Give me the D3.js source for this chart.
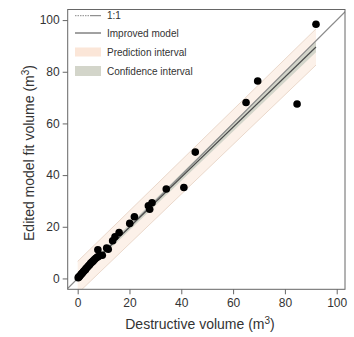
<!DOCTYPE html>
<html><head><meta charset="utf-8">
<script src="https://cdn.jsdelivr.net/npm/d3@7"></script>
<style>body{margin:0;background:#fff}svg{display:block;font-family:"Liberation Sans",Arial,sans-serif}</style>
</head><body><svg id="c" width="354" height="337"></svg>
<script>
const destructive = [0.2,0.5,0.8,1.2,1.5,1.8,2.2,2.5,3,3.3,3.8,4.2,4.6,5,5.5,6,6.5,7,7.5,8,9.5,11.2,7.8,11.8,13.5,14.4,16,20.1,21.9,27.3,27.8,28.7,34.2,41,45.4,65,69.5,84.7,92];
const fitted = [0.3,0.6,0.9,1.4,1.8,2.1,2.6,3,3.4,3.9,4.4,4.9,5.3,5.9,6.3,6.8,7.3,7.8,8.2,8.5,9,11.8,11.1,11.3,14.6,16.1,17.8,21.3,23.9,28.1,26.8,29.3,34.6,35.2,48.9,68.1,76.4,67.5,98.4];
const xTicks = [0,20,40,60,80,100];
const yTicks = [0,20,40,60,80,100];
const modelX = [0, 92];
const modelY = [0.4, 89.6];
const piHalf = [6.2, 7.0];
const ciHalf = [0.9, 2.0];
const legendLabels = ["1:1","Improved model","Prediction interval","Confidence interval"];

const svg = d3.select("#c");
const L=67.7,R=345,T=9.5,B=289.3;
const x = d3.scaleLinear().domain([-3.85,103.2]).range([L,R]);
const y = d3.scaleLinear().domain([-4.2,104.1]).range([B,T]);
const txt="#333";

svg.append("defs").append("clipPath").attr("id","clip").append("rect").attr("x",L).attr("y",T).attr("width",R-L).attr("height",B-T);
const g = svg.append("g").attr("clip-path","url(#clip)");

const band = (half)=> modelX.map((v,i)=>({x:v,lo:modelY[i]-half[i],hi:modelY[i]+half[i]}));
const area = d3.area().x(d=>x(d.x)).y0(d=>y(d.lo)).y1(d=>y(d.hi));
const pi = band(piHalf), ci = band(ciHalf);
g.append("path").datum(pi).attr("d",area).attr("fill","#fcf1e9");
g.append("path").datum(pi).attr("d",d3.line().x(d=>x(d.x)).y(d=>y(d.hi))).attr("fill","none").attr("stroke","#ead8cb").attr("stroke-width",1);
g.append("path").datum(pi).attr("d",d3.line().x(d=>x(d.x)).y(d=>y(d.lo))).attr("fill","none").attr("stroke","#ead8cb").attr("stroke-width",1);
g.append("path").datum(ci).attr("d",area).attr("fill","#d3d5ca");

// 1:1 line
g.append("line").attr("x1",x(-10)).attr("y1",y(-10)).attr("x2",x(110)).attr("y2",y(110)).attr("stroke","#8a8a8a").attr("stroke-width",1.2);
// improved model
g.append("line").attr("x1",x(modelX[0])).attr("y1",y(modelY[0])).attr("x2",x(modelX[1])).attr("y2",y(modelY[1])).attr("stroke","#4a4a4a").attr("stroke-width",1.2);

g.selectAll("circle").data(destructive).join("circle")
 .attr("cx",d=>x(d)).attr("cy",(d,i)=>y(fitted[i])).attr("r",3.8).attr("fill","#000");

svg.append("rect").attr("x",L).attr("y",T).attr("width",R-L).attr("height",B-T).attr("fill","none").attr("stroke","#666").attr("stroke-width",1);

const xa = svg.append("g").attr("transform",`translate(0,${B})`).call(d3.axisBottom(x).tickValues(xTicks).tickSize(5).tickPadding(4));
const ya = svg.append("g").attr("transform",`translate(${L},0)`).call(d3.axisLeft(y).tickValues(yTicks).tickSize(5).tickPadding(3));
[xa,ya].forEach(a=>{a.select(".domain").remove();a.selectAll("line").attr("stroke","#666");a.selectAll("text").attr("fill",txt).style("font-size","12px").style("font-family","Liberation Sans, Arial, sans-serif");});

const xt = svg.append("text").attr("x",200).attr("y",329).attr("text-anchor","middle").attr("fill",txt).style("font-size","14px");
xt.append("tspan").text("Destructive volume (m");
xt.append("tspan").attr("dy",-5).style("font-size","10px").text("3");
xt.append("tspan").attr("dy",5).text(")");

const yt = svg.append("text").attr("transform","translate(34,153) rotate(-90)").attr("text-anchor","middle").attr("fill",txt).style("font-size","14px");
yt.append("tspan").text("Edited model fit volume (m");
yt.append("tspan").attr("dy",-5).style("font-size","10px").text("3");
yt.append("tspan").attr("dy",5).text(")");

const lg = svg.append("g");
const ly=[15.7,33,52,71];
lg.append("line").attr("x1",75).attr("x2",90).attr("y1",ly[0]).attr("y2",ly[0]).attr("stroke","#888").attr("stroke-dasharray","1.5,1");
lg.append("line").attr("x1",90).attr("x2",101).attr("y1",ly[0]).attr("y2",ly[0]).attr("stroke","#777");
lg.append("line").attr("x1",75).attr("x2",101).attr("y1",ly[1]).attr("y2",ly[1]).attr("stroke","#444");
lg.append("rect").attr("x",75).attr("y",ly[2]-4.5).attr("width",26).attr("height",9).attr("fill","#fbe6d8");
lg.append("rect").attr("x",75).attr("y",ly[3]-5).attr("width",26).attr("height",10).attr("fill","#d3d5ca");
lg.selectAll("text.lab").data(legendLabels).join("text").attr("class","lab").attr("x",107).attr("y",(d,i)=>ly[i]+3.5).attr("fill",txt).style("font-size","10px").text(d=>d);
</script></body></html>
